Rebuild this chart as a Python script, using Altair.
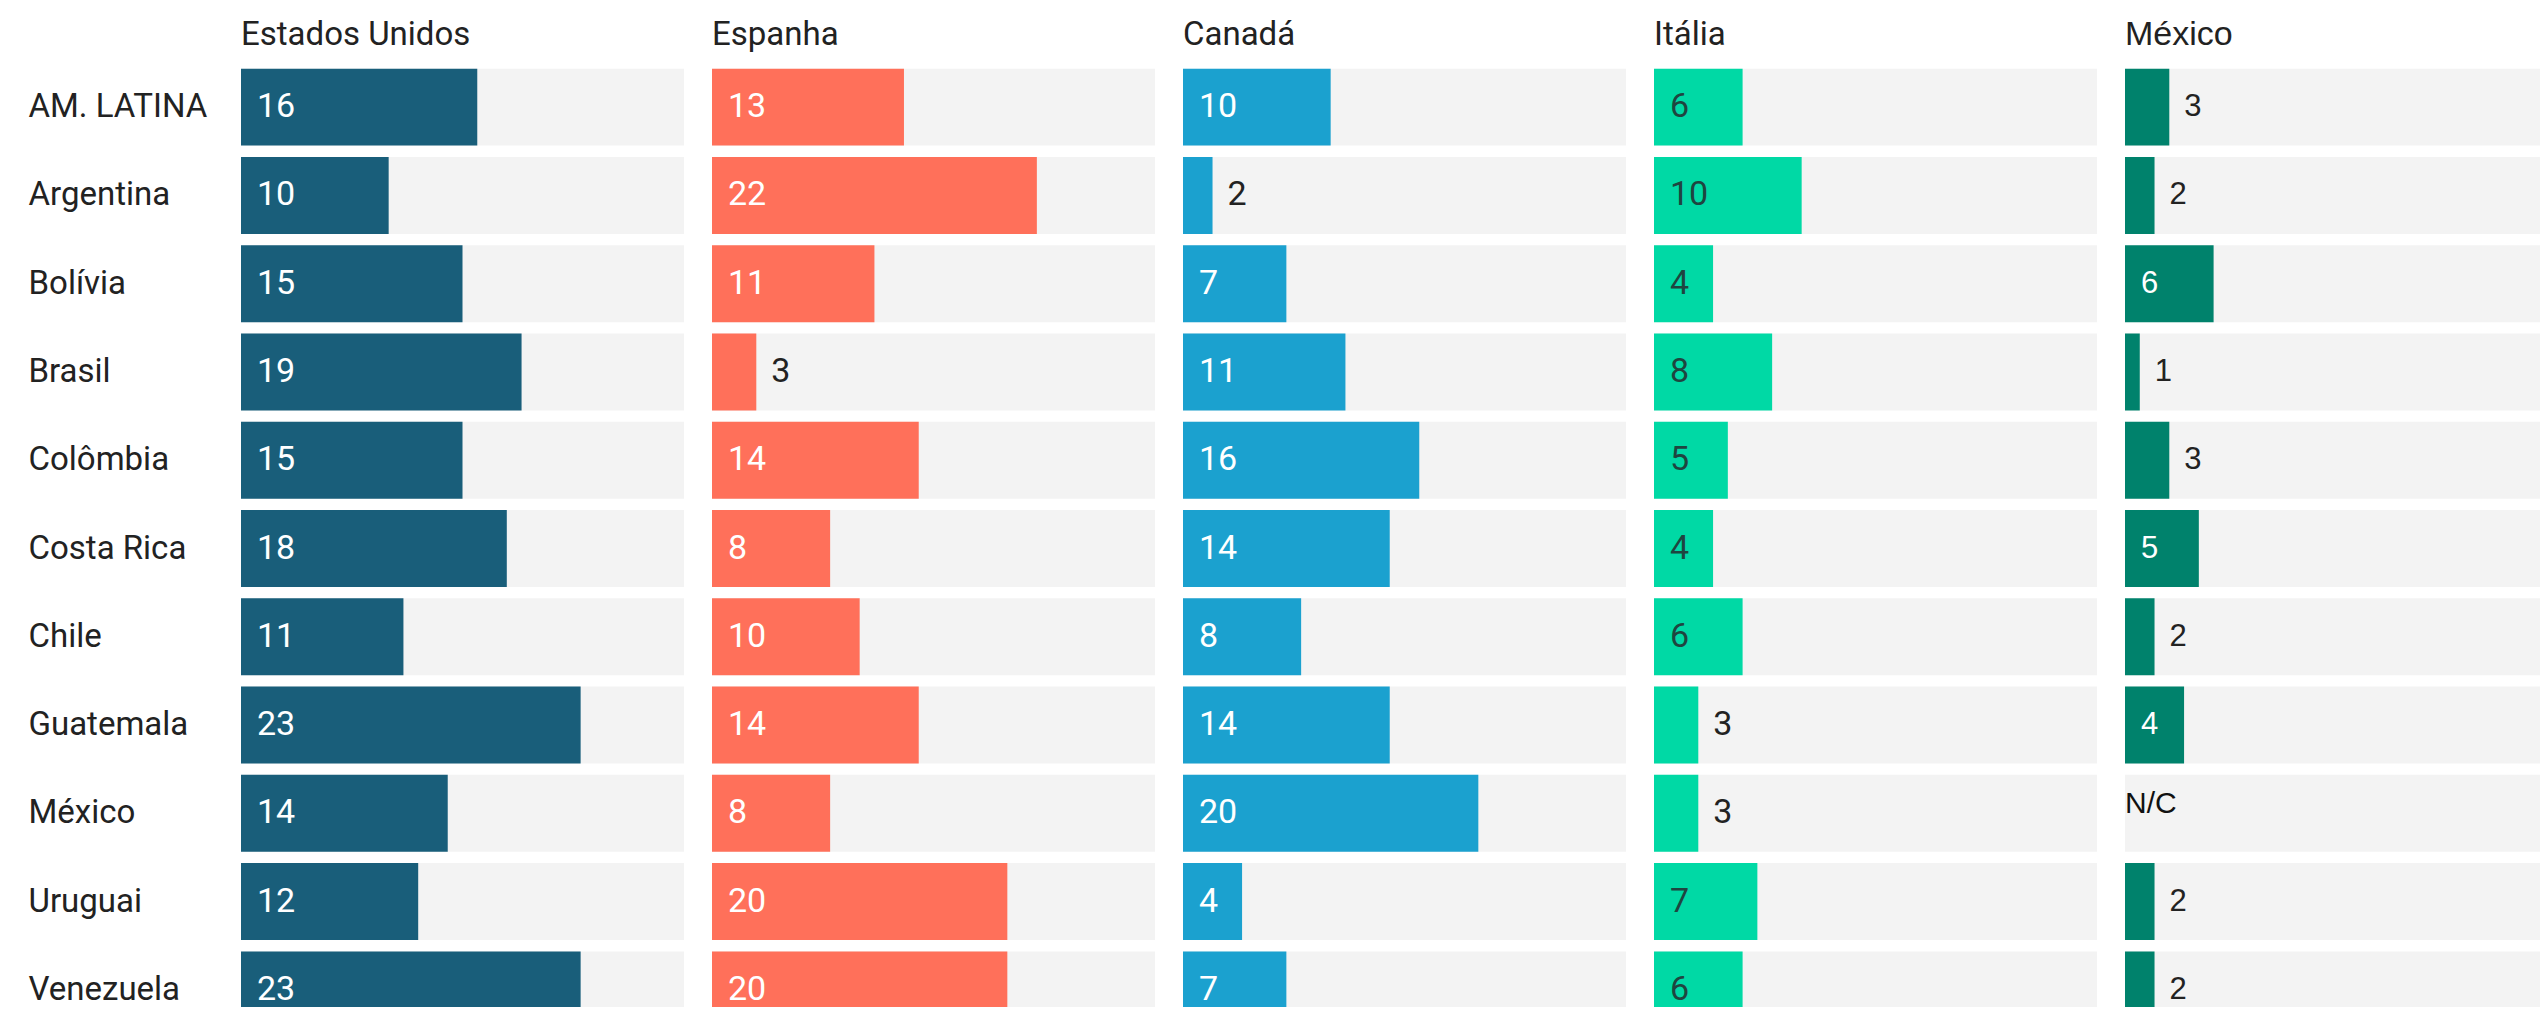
import altair as alt
import pandas as pd

countries = ["AM. LATINA", "Argentina", "Bolívia", "Brasil", "Colômbia", "Costa Rica",
             "Chile", "Guatemala", "México", "Uruguai", "Venezuela"]
panels = ["Estados Unidos", "Espanha", "Canadá", "Itália", "México"]
estados_unidos = [16, 10, 15, 19, 15, 18, 11, 23, 14, 12, 23]
espanha = [13, 22, 11, 3, 14, 8, 10, 14, 8, 20, 20]
canada = [10, 2, 7, 11, 16, 14, 8, 14, 20, 4, 7]
italia = [6, 10, 4, 8, 5, 4, 6, 3, 3, 7, 6]
mexico = [3, 2, 6, 1, 3, 5, 2, 4, None, 2, 2]
series = [estados_unidos, espanha, canada, italia, mexico]

colors = ["#195e7a", "#ff705a", "#1ba1cf", "#00d9a5", "#00826c"]
inside_colors = ["#ffffff", "#ffffff", "#ffffff", "#1f4540", "#ffffff"]
fonts = ["Roboto", "Roboto", "Roboto", "Roboto", "Liberation Sans"]
num_sizes = [34, 34, 34, 34, 31]
title_sizes = [33, 33, 33, 33, 34]

# panel widths (the last one is cut by the page edge, same px per unit)
widths = [443, 443, 443, 443, 415]
PX_PER_UNIT = 443 / 30
PLOT_H = 944          # visible plot height
BAND_RANGE = 971      # full range of 11 rows (last row is cut at bottom)
LABEL_FS = 33
TEXT_COLOR = "#222222"

yscale = alt.Scale(paddingInner=0.128, paddingOuter=0.064, range=[0, BAND_RANGE])

charts = []
for i, (name, vals) in enumerate(zip(panels, series)):
    xmax = widths[i] / PX_PER_UNIT
    xscale = alt.Scale(domain=[0, xmax], nice=False, zero=True)
    df = pd.DataFrame({
        "country": countries,
        "value": vals,
        "label": [str(v) if v is not None else "N/C" for v in vals],
    })
    if i == 0:
        yaxis = alt.Axis(title=None, labelAlign="left", labelPadding=213, ticks=False,
                         domain=False, labelFontSize=LABEL_FS, labelFont="Roboto",
                         labelColor=TEXT_COLOR, labelLimit=400, grid=False)
    else:
        yaxis = None
    base = alt.Chart(df).encode(
        y=alt.Y("country:N", sort=countries, scale=yscale, axis=yaxis)
    )
    bg = base.mark_bar(color="#f3f3f3", clip=True).encode(
        x=alt.XDatum(xmax, type="quantitative", scale=xscale, axis=None)
    )
    bars = base.mark_bar(color=colors[i], clip=True).encode(
        x=alt.X("value:Q", scale=xscale, axis=None)
    ).transform_filter("isValid(datum.value)")
    txt_in = base.mark_text(align="left", baseline="middle", dx=16, font=fonts[i],
                            fontSize=num_sizes[i], color=inside_colors[i]).encode(
        x=alt.XDatum(0, type="quantitative", scale=xscale, axis=None),
        text="label:N",
    ).transform_filter("isValid(datum.value) && datum.value > 3")
    txt_out = base.mark_text(align="left", baseline="middle", dx=15, font=fonts[i],
                             fontSize=num_sizes[i], color=TEXT_COLOR).encode(
        x=alt.X("value:Q", scale=xscale, axis=None),
        text="label:N",
    ).transform_filter("isValid(datum.value) && datum.value <= 3")
    txt_na = base.mark_text(align="left", baseline="middle", dx=0, dy=-9,
                            font="Liberation Sans", fontSize=30,
                            color="#111111").encode(
        x=alt.XDatum(0, type="quantitative", scale=xscale, axis=None),
        text="label:N",
    ).transform_filter("!isValid(datum.value)")
    layer = alt.layer(bg, bars, txt_in, txt_out, txt_na).properties(
        width=widths[i], height=PLOT_H,
        title=alt.TitleParams(text=name, anchor="start", frame="group",
                              fontSize=title_sizes[i], font=fonts[i],
                              fontWeight="normal", color=TEXT_COLOR, offset=11),
    )
    charts.append(layer)

chart = alt.hconcat(*charts, spacing=28).properties(
    padding={"left": 20, "top": 10, "right": 0, "bottom": 0}
).configure_view(stroke=None)

chart.save("out.html", embed_options={"renderer": "svg", "actions": False})
